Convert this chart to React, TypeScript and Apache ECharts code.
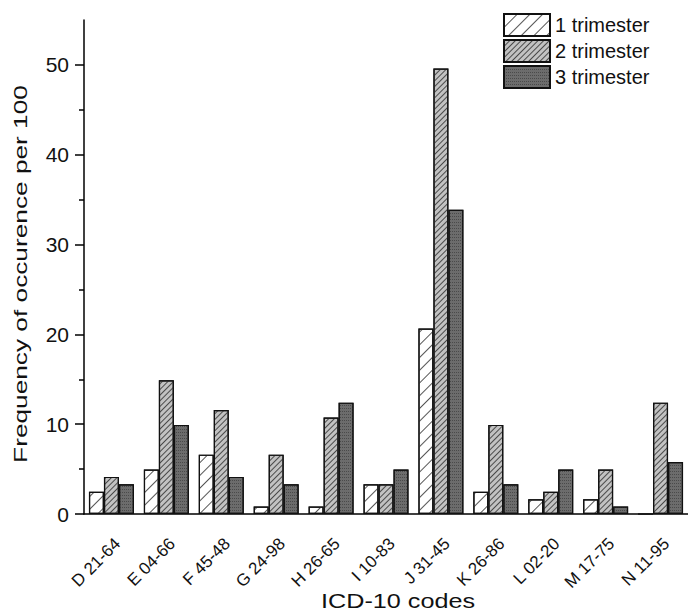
import React, { useEffect, useRef } from "react";
import * as echarts from "echarts";

const categories = [
  "D 21-64", "E 04-66", "F 45-48", "G 24-98", "H 26-65", "I 10-83",
  "J 31-45", "K 26-86", "L 02-20", "M 17-75", "N 11-95",
];
const seriesNames = ["1 trimester", "2 trimester", "3 trimester"];
const trimester1 = [2.48, 4.96, 6.61, 0.83, 0.83, 3.31, 20.66, 2.48, 1.65, 1.65, 0];
const trimester2 = [4.13, 14.88, 11.57, 6.61, 10.74, 3.31, 49.59, 9.92, 2.48, 4.96, 12.4];
const trimester3 = [3.31, 9.92, 4.13, 3.31, 12.4, 4.96, 33.88, 3.31, 4.96, 0.83, 5.79];
const yMax = 55;
const yMajorTicks = [0, 10, 20, 30, 40, 50];
const yMinorTicks = [5, 15, 25, 35, 45];
const xTitle = "ICD-10 codes";
const yTitle = "Frequency of occurence per 100";

const FONT = "'Liberation Sans', Arial, sans-serif";

export default function App() {
  const ref = useRef<HTMLDivElement>(null);
  useEffect(() => {
    document.body.style.margin = "0";
    const chart = echarts.init(ref.current!, undefined, { renderer: "svg" });
    const barBase = {
      type: "bar" as const,
      barWidth: 15,
      barGap: "0%",
      xAxisIndex: 0,
      yAxisIndex: 0,
    };
    chart.setOption({
      animation: false,
      backgroundColor: "#ffffff",
      textStyle: { fontFamily: FONT },
      grid: { left: 84, top: 20, right: -6.5, bottom: 100, containLabel: false },
      legend: {
        orient: "vertical",
        left: 498,
        top: 8,
        itemWidth: 46,
        itemHeight: 22,
        itemGap: 2,
        icon: "rect",
        textStyle: { fontSize: 20, color: "#111", fontFamily: FONT },
        data: seriesNames,
      },
      xAxis: [
        {
          type: "category",
          data: categories,
          axisLine: { lineStyle: { color: "#000", width: 1.5 } },
          axisTick: { alignWithLabel: true, length: 9, lineStyle: { color: "#000", width: 1.5 } },
          axisLabel: {
            interval: 0,
            rotate: 45,
            margin: 21,
            verticalAlign: "top",
            fontSize: 17,
            color: "#111",
            fontFamily: FONT,
          },
        },
        {
          type: "category",
          data: categories,
          position: "bottom",
          axisLine: { show: false },
          axisTick: { length: 4, lineStyle: { color: "#000", width: 1.5 } },
          axisLabel: { show: false },
        },
      ],
      yAxis: [
        {
          type: "value",
          min: 0,
          max: yMax,
          axisLine: { show: true, lineStyle: { color: "#000", width: 1.5 } },
          axisTick: {
            show: true,
            length: 9,
            customValues: yMajorTicks,
            lineStyle: { color: "#000", width: 1.5 },
          },
          splitLine: { show: false },
          axisLabel: {
            fontSize: 21,
            margin: 15,
            color: "#111",
            fontFamily: FONT,
            customValues: yMajorTicks,
          },
        },
        {
          type: "value",
          min: 0,
          max: yMax,
          position: "left",
          axisLine: { show: false },
          axisTick: {
            show: true,
            length: 5,
            customValues: yMinorTicks,
            lineStyle: { color: "#000", width: 1.5 },
          },
          splitLine: { show: false },
          axisLabel: { show: false },
        },
      ],
      series: [
        {
          ...barBase,
          name: seriesNames[0],
          data: trimester1,
          itemStyle: {
            color: "#ffffff",
            borderColor: "#111",
            borderWidth: 1.2,
            decal: {
              symbol: "rect",
              symbolSize: 1,
              color: "#555",
              dashArrayX: [1, 0],
              dashArrayY: [1, 7.5],
              rotation: -Math.PI / 4,
            },
          },
        },
        {
          ...barBase,
          name: seriesNames[1],
          data: trimester2,
          itemStyle: {
            color: "#c2c2c2",
            borderColor: "#111",
            borderWidth: 1.2,
            decal: {
              symbol: "rect",
              symbolSize: 1,
              color: "#4a4a4a",
              dashArrayX: [1, 0],
              dashArrayY: [1, 2.8],
              rotation: -Math.PI / 4,
            },
          },
        },
        {
          ...barBase,
          name: seriesNames[2],
          data: trimester3,
          itemStyle: {
            color: "#6c6c6c",
            borderColor: "#111",
            borderWidth: 1.2,
            decal: {
              symbol: "rect",
              symbolSize: 1,
              color: "#4a4a4a",
              dashArrayX: [[1, 1]],
              dashArrayY: [1, 2],
              rotation: 0,
            },
          },
        },
      ],
      graphic: [
        {
          type: "text",
          x: 21,
          y: 274,
          rotation: Math.PI / 2,
          scaleX: 1.5,
          style: {
            text: yTitle,
            fontSize: 17.5,
            fontFamily: FONT,
            fill: "#111",
            align: "center",
            verticalAlign: "middle",
          },
        },
        {
          type: "text",
          x: 398,
          y: 601,
          scaleX: 1.2,
          style: {
            text: xTitle,
            fontSize: 21,
            fontFamily: FONT,
            fill: "#111",
            align: "center",
            verticalAlign: "middle",
          },
        },
      ],
    });
    return () => chart.dispose();
  }, []);
  return <div ref={ref} style={{ width: 688, height: 614 }} />;
}
